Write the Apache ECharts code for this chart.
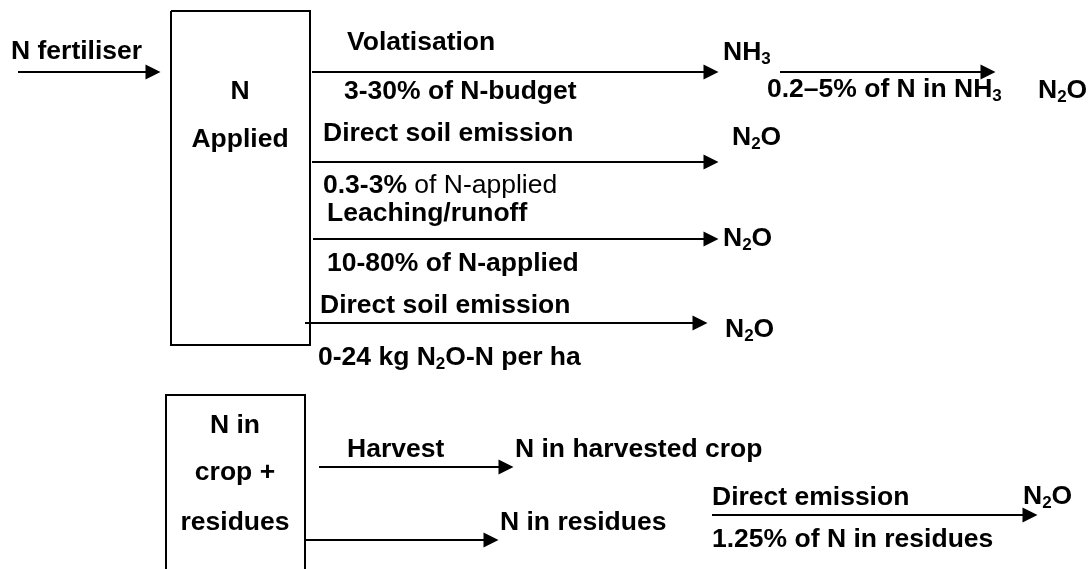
<!DOCTYPE html>
<html>
	<head>
		<meta charset="utf-8" />
		<title>N flows</title>
		<script src="https://cdn.jsdelivr.net/npm/echarts@6/dist/echarts.min.js"></script>
	</head>
	<body style="margin:0;background:#fff;">
		<div id="main" style="width: 1089px;height:569px;"></div>
		<script type="text/javascript">
			// arrows: x1, y1, x2, y2 (x2/y2 = centre of the arrow head)
			var arrows = [
				[18, 72, 153, 72],
				[312, 72, 711, 72],
				[780, 72, 988, 72],
				[312, 162, 711, 162],
				[313, 239, 711, 239],
				[305, 323, 700, 323],
				[319, 467, 506, 467],
				[305, 540, 491, 540],
				[712, 515, 1030, 515]
			];
			// box outlines
			var boxes = [
				[[171, 11], [310, 11], [310, 345], [171, 345], [171, 11]],
				[[166, 575], [166, 395], [305, 395], [305, 575]]
			];
			// texts starting at x
			var leftTexts = [
				[11, 52, 'N fertiliser'],
				[347, 43, 'Volatisation'],
				[344, 92, '3-30% of N-budget'],
				[723, 53, 'NH{s|3}'],
				[767, 90, '0.2–5% of N in NH{s|3}'],
				[1038, 91, 'N{s|2}O'],
				[323, 134, 'Direct soil emission'],
				[732, 138, 'N{s|2}O'],
				[323, 186, '0.3-3%{r| of N-applied}'],
				[327, 214, 'Leaching/runoff'],
				[723, 239, 'N{s|2}O'],
				[327, 264, '10-80% of N-applied'],
				[320, 306, 'Direct soil emission'],
				[725, 330, 'N{s|2}O'],
				[318, 358, '0-24 kg N{s|2}O-N per ha'],
				[347, 450, 'Harvest'],
				[515, 450, 'N in harvested crop'],
				[500, 523, 'N in residues'],
				[712, 498, 'Direct emission'],
				[1023, 497, 'N{s|2}O'],
				[712, 540, '1.25% of N in residues']
			];
			// texts centred on x (inside the boxes)
			var centerTexts = [
				[240, 92, 'N'],
				[240, 140, 'Applied'],
				[235, 426, 'N in'],
				[235, 473, 'crop +'],
				[235, 523, 'residues']
			];

			var font = "'Liberation Sans', Arial, sans-serif";
			var rich = {
				r: { fontSize: 26.5, fontWeight: 'normal', lineHeight: 30, color: '#000', fontFamily: font },
				s: { fontSize: 17, fontWeight: 'bold', lineHeight: 23, verticalAlign: 'bottom', color: '#000', fontFamily: font }
			};

			function textData(list) {
				return list.map(function(t) {
					return { name: t[2], value: [t[0], t[1]] };
				});
			}

			function textSeries(list, pos) {
				return {
					type: 'scatter',
					symbolSize: 0,
					silent: true,
					itemStyle: { opacity: 1 },
					data: textData(list),
					label: {
						show: true,
						position: pos,
						distance: 0,
						color: '#000',
						opacity: 1,
						fontFamily: font,
						fontSize: 26.5,
						fontWeight: 'bold',
						lineHeight: 30,
						formatter: function(p) {
							return p.name;
						},
						rich: rich
					}
				};
			}

			var myChart = echarts.init(document.getElementById('main'));
			var option = {
				animation: false,
				backgroundColor: '#fff',
				textStyle: { color: '#000', fontFamily: font },
				grid: { left: 0, right: 0, top: 0, bottom: 0 },
				xAxis: { type: 'value', min: 0, max: 1089, show: false },
				yAxis: { type: 'value', min: 0, max: 569, inverse: true, show: false },
				series: [{
						type: 'lines',
						coordinateSystem: 'cartesian2d',
						silent: true,
						symbol: ['none', 'triangle'],
						symbolSize: 15,
						lineStyle: { color: '#000', width: 2, opacity: 1, curveness: 0 },
						data: arrows.map(function(a) {
							return { coords: [[a[0], a[1]], [a[2], a[3]]] };
						})
					},
					{
						type: 'lines',
						coordinateSystem: 'cartesian2d',
						polyline: true,
						silent: true,
						symbol: 'none',
						lineStyle: { color: '#000', width: 2, opacity: 1 },
						data: boxes.map(function(b) {
							return { coords: b };
						})
					},
					textSeries(leftTexts, 'right'),
					textSeries(centerTexts, 'inside')
				]
			};
			myChart.setOption(option);
		</script>
	</body>
</html>
